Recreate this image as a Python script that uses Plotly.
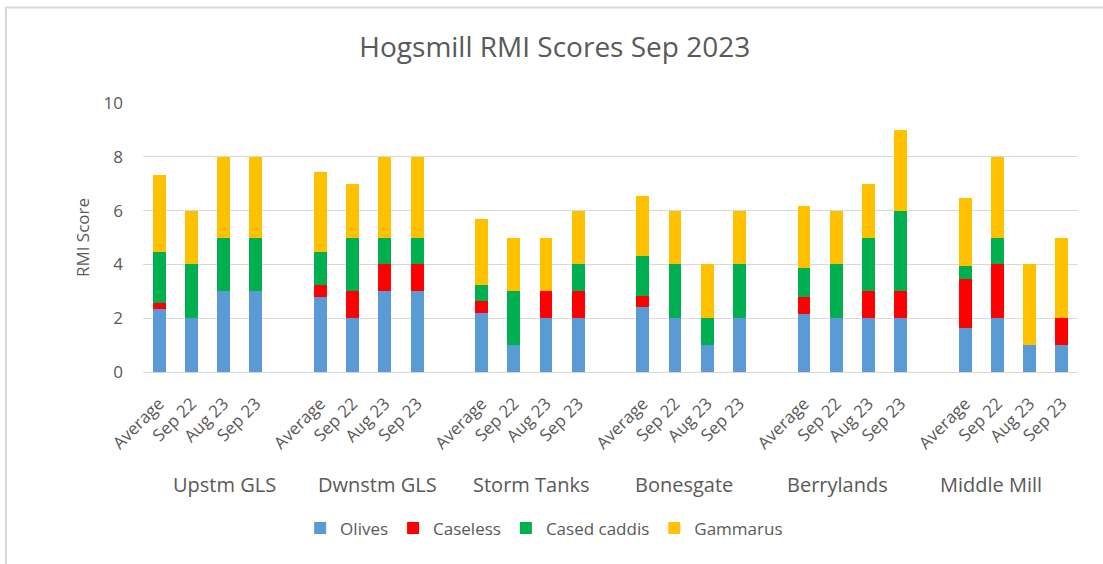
import plotly.graph_objects as go

groups = ["Upstm GLS", "Dwnstm GLS", "Storm Tanks", "Bonesgate", "Berrylands", "Middle Mill"]
periods = ["Average", "Sep 22", "Aug 23", "Sep 23"]

# values per group, in period order (Average, Sep 22, Aug 23, Sep 23)
olives = [
    [2.35, 2, 3, 3],
    [2.77, 2, 3, 3],
    [2.19, 1, 2, 2],
    [2.40, 2, 1, 2],
    [2.15, 2, 2, 2],
    [1.65, 2, 1, 1],
]
caseless = [
    [0.20, 0, 0, 0],
    [0.47, 1, 1, 1],
    [0.46, 0, 1, 1],
    [0.43, 0, 0, 0],
    [0.63, 0, 1, 1],
    [1.79, 2, 0, 1],
]
cased_caddis = [
    [1.92, 2, 2, 2],
    [1.22, 2, 1, 1],
    [0.58, 2, 0, 1],
    [1.48, 2, 1, 2],
    [1.07, 2, 2, 3],
    [0.50, 1, 0, 0],
]
gammarus = [
    [2.86, 2, 3, 3],
    [2.98, 2, 3, 3],
    [2.45, 2, 2, 2],
    [2.22, 2, 2, 2],
    [2.32, 2, 2, 3],
    [2.52, 3, 3, 3],
]

series = [
    ("Olives", olives, "#5B9BD5"),
    ("Caseless", caseless, "#FF0000"),
    ("Cased caddis", cased_caddis, "#00B050"),
    ("Gammarus", gammarus, "#FFC000"),
]

FONT = "Open Sans, sans-serif"
TXT = "#595959"

slot = len(periods) + 1
xs, labels = [], []
for g in range(len(groups)):
    for i, p in enumerate(periods):
        xs.append(g * slot + i)
        labels.append(p)

fig = go.Figure()
for name, data, color in series:
    vals = [v for row in data for v in row]
    fig.add_trace(go.Bar(
        x=xs, y=vals, name=name, width=0.4,
        marker=dict(color=color, line=dict(width=0)),
    ))

n_slots = len(groups) * slot - 1
fig.update_layout(
    barmode="stack",
    width=1103, height=564,
    paper_bgcolor="white", plot_bgcolor="white",
    margin=dict(l=143, r=25, t=103, b=192),
    font=dict(family=FONT, color=TXT),
    title=dict(text="Hogsmill RMI Scores Sep 2023", x=0.503, xanchor="center",
               y=0.916, yanchor="middle", font=dict(size=28, color=TXT, family=FONT)),
    xaxis=dict(range=[-0.5, n_slots - 0.5], tickvals=xs, ticktext=labels,
               tickangle=-45, tickfont=dict(size=17, color=TXT),
               ticklabelstandoff=14,
               showgrid=False, showline=True, linecolor="#D9D9D9", linewidth=1,
               ticks="", zeroline=False),
    yaxis=dict(range=[0, 10], dtick=2, tickfont=dict(size=17, color=TXT),
               showgrid=True, gridcolor="#D9D9D9", gridwidth=1, zeroline=False,
               ticks="", ticklen=0, ticklabelstandoff=19,
               title=dict(text="RMI Score", font=dict(size=17, color=TXT), standoff=9)),
    legend=dict(orientation="h", x=0.429, xanchor="center", y=-0.582, yanchor="middle",
                font=dict(size=17, color=TXT), traceorder="normal",
                itemwidth=30),
    bargap=0,
)

# category group labels, spread evenly across the plot width
for g, name in enumerate(groups):
    fig.add_annotation(x=0.087 + g * 0.164, y=-0.420, xref="paper", yref="paper",
                       text=name, showarrow=False,
                       font=dict(size=20, color=TXT, family=FONT),
                       xanchor="center", yanchor="middle")

# chart border (left and top edges visible)
fig.add_shape(type="rect", xref="paper", yref="paper",
              x0=(6 - 143) / 935, x1=(1110 - 143) / 935,
              y0=-(575 - 372) / 269, y1=(372 - 7.5) / 269,
              line=dict(color="#D9D9D9", width=2), layer="below")

fig.write_html("out.html", config={"displayModeBar": False},
               post_script="document.body.style.margin='0';")
